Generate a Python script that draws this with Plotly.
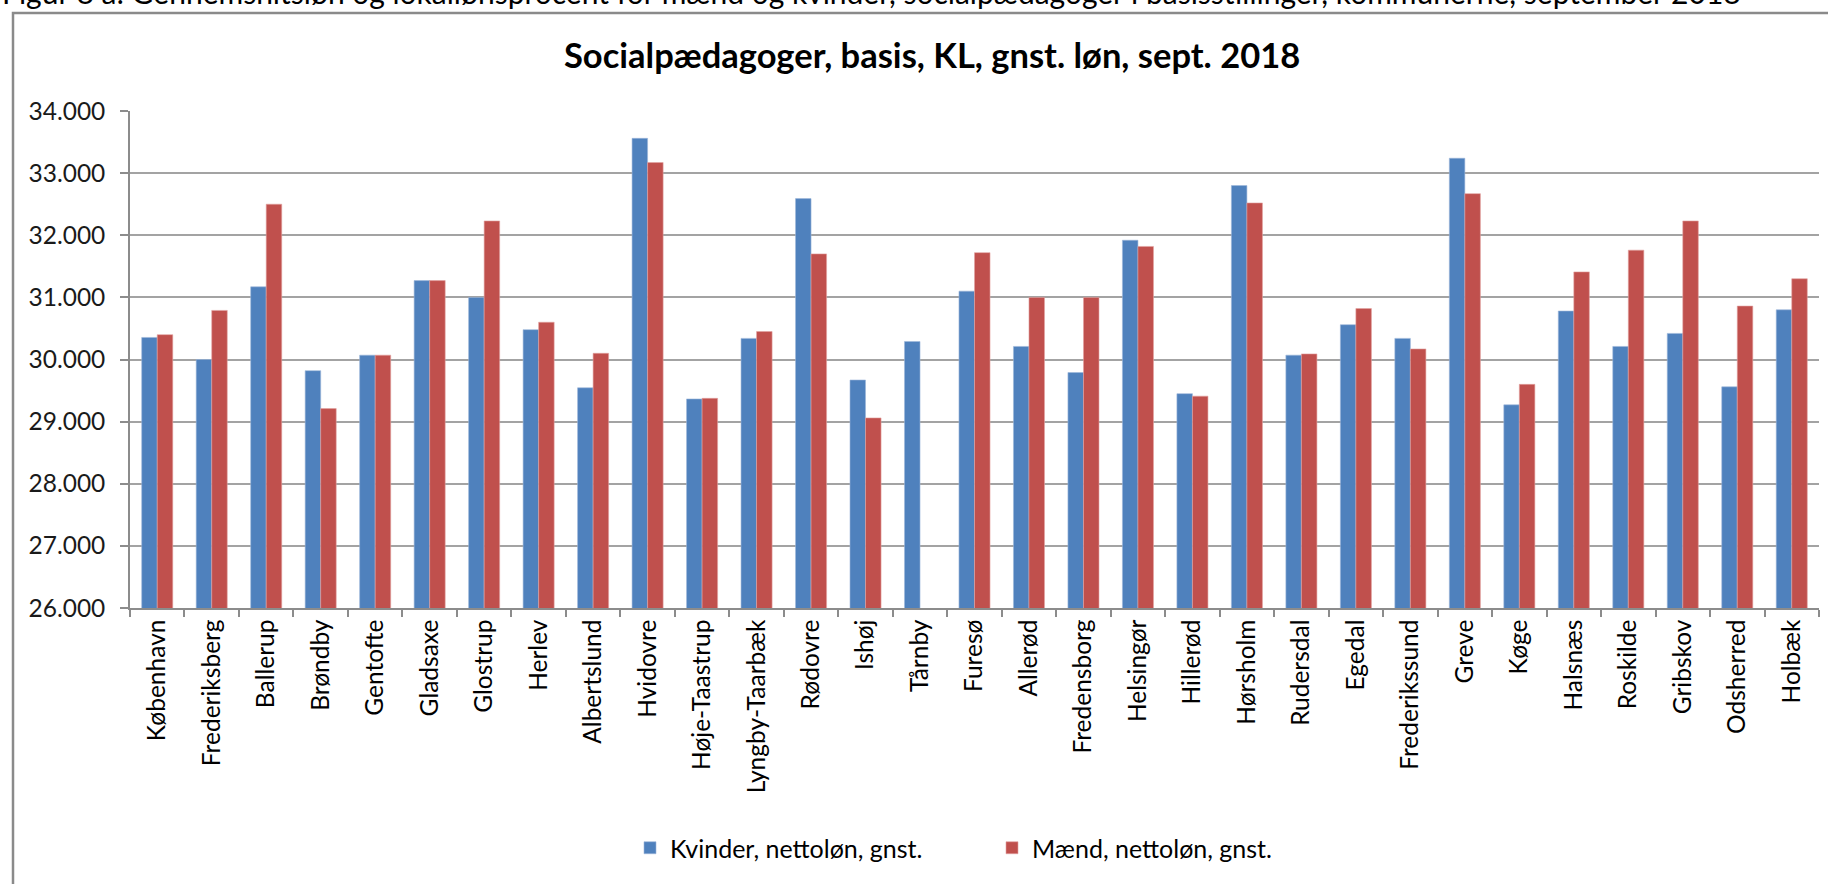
import plotly.graph_objects as go

# ---- data ----
kommuner = ["København", "Frederiksberg", "Ballerup", "Brøndby", "Gentofte", "Gladsaxe",
            "Glostrup", "Herlev", "Albertslund", "Hvidovre", "Høje-Taastrup", "Lyngby-Taarbæk",
            "Rødovre", "Ishøj", "Tårnby", "Furesø", "Allerød", "Fredensborg", "Helsingør",
            "Hillerød", "Hørsholm", "Rudersdal", "Egedal", "Frederikssund", "Greve", "Køge",
            "Halsnæs", "Roskilde", "Gribskov", "Odsherred", "Holbæk"]
kvinder = [30355, 30000, 31170, 29820, 30070, 31270, 31000, 30480, 29545, 33560, 29365, 30340,
           32590, 29670, 30290, 31100, 30210, 29790, 31920, 29450, 32800, 30070, 30560, 30340,
           33240, 29270, 30780, 30210, 30420, 29560, 30800]
maend = [30400, 30790, 32500, 29210, 30070, 31270, 32230, 30600, 30100, 33170, 29375, 30450,
         31700, 29060, None, 31720, 31000, 31000, 31820, 29410, 32520, 30090, 30820, 30170,
         32670, 29600, 31410, 31760, 32230, 30860, 31300]
y_ticks = [26000, 27000, 28000, 29000, 30000, 31000, 32000, 33000, 34000]

series_names = ["Kvinder, nettoløn, gnst.", "Mænd, nettoløn, gnst."]
title_text = "Socialpædagoger, basis, KL, gnst. løn, sept. 2018"
caption_text = ("Figur 8 a: Gennemsnitsløn og lokallønsprocent for mænd og kvinder, "
                "socialpædagoger i basisstillinger, kommunerne, september 2018")

# ---- layout geometry (pixels) ----
W, H = 1828, 884
L, R, T, B = 130, 1819, 111, 608
pw, ph = R - L, B - T

def px_x(x):
    return (x - L) / pw

def px_y(y):
    return 1 + (T - y) / ph

FONT = "Lato"
GRID = "#A3A3A3"

fig = go.Figure()
fig.add_trace(go.Bar(x=kommuner, y=kvinder, name=series_names[0],
                     marker=dict(color="#4F81BD", line=dict(color="#9DB7DA", width=0.6))))
fig.add_trace(go.Bar(x=kommuner, y=maend, name=series_names[1],
                     marker=dict(color="#C0504D", line=dict(color="#E3A3A1", width=0.6))))

fig.update_layout(
    width=W, height=H,
    margin=dict(l=L, r=W - R, t=T, b=H - B),
    paper_bgcolor="white", plot_bgcolor="white",
    separators=",.",
    barmode="group", bargap=0.43, bargroupgap=0.0,
    font=dict(family=FONT, color="#000000", size=22),
    showlegend=True,
    legend=dict(orientation="h", x=px_x(630), xanchor="left", y=px_y(848), yanchor="middle",
                font=dict(family=FONT, size=25, color="#000000"),
                entrywidth=317, entrywidthmode="pixels", traceorder="normal",
                bgcolor="rgba(0,0,0,0)"),
    xaxis=dict(type="category", showgrid=False, showline=True, linecolor="#8C8C8C", linewidth=1.5,
               ticks="outside", tickson="boundaries", ticklen=7, tickcolor="#8C8C8C", tickwidth=1.5,
               tickangle=-90, tickfont=dict(family=FONT, size=24.5, color="#000000")),
    yaxis=dict(range=[26000, 34000], tickvals=y_ticks, tickformat=",.0f",
               showgrid=True, gridcolor=GRID, gridwidth=1.5,
               showline=True, linecolor="#8C8C8C", linewidth=1.5,
               ticks="outside", ticklen=8, tickcolor="#8C8C8C", tickwidth=1.5,
               ticklabelstandoff=10,
               tickfont=dict(family=FONT, size=24.5, color="#1a1a1a"), zeroline=False),
    shapes=[dict(type="rect", xref="paper", yref="paper",
                 x0=px_x(13), x1=px_x(1852), y0=px_y(910), y1=px_y(13),
                 line=dict(color="#8A8A8A", width=2.5), fillcolor="rgba(0,0,0,0)", layer="below")],
    annotations=[
        dict(text="<b>" + title_text + "</b>", xref="paper", yref="paper",
             x=px_x(932), y=px_y(55), xanchor="center", yanchor="middle", showarrow=False,
             font=dict(family=FONT, size=34.5, color="#000000")),
        dict(text=caption_text, xref="paper", yref="paper",
             x=px_x(0), y=px_y(12), xanchor="left", yanchor="bottom", showarrow=False,
             font=dict(family=FONT, size=30, color="#000000")),
    ],
)

fig.write_html("out.html", config={"displayModeBar": False},
               post_script="document.body.style.margin='0';document.body.style.overflow='hidden';")
